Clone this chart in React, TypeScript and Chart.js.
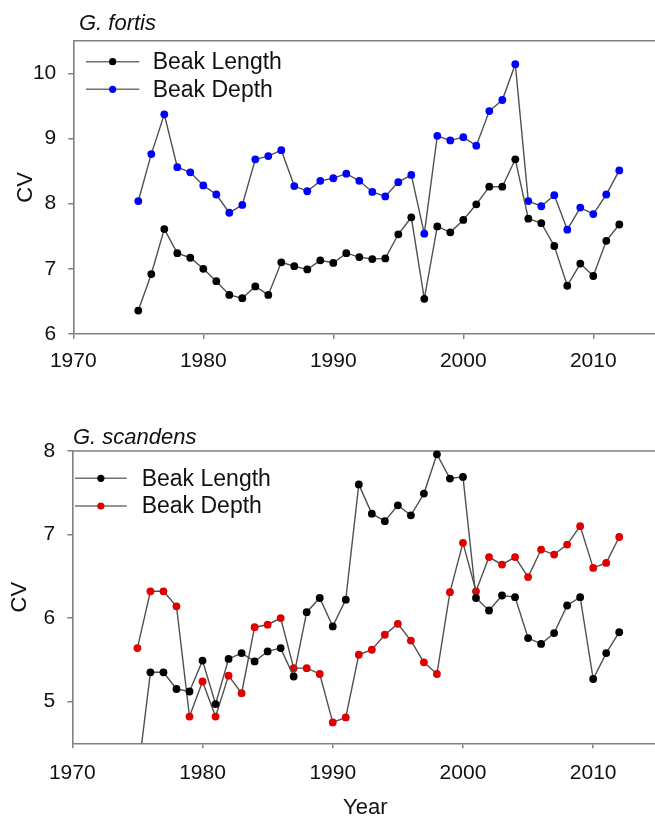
import React, { useEffect, useRef } from 'react';
import { Chart, registerables } from 'chart.js';

Chart.register(...registerables);

// ---- data ----
const years = [
  1975, 1976, 1977, 1978, 1979, 1980, 1981, 1982, 1983, 1984,
  1985, 1986, 1987, 1988, 1989, 1990, 1991, 1992, 1993, 1994,
  1995, 1996, 1997, 1998, 1999, 2000, 2001, 2002, 2003, 2004,
  2005, 2006, 2007, 2008, 2009, 2010, 2011, 2012,
];

const fortisLength = [
  6.36, 6.92, 7.61, 7.24, 7.17, 7.0, 6.81, 6.6, 6.55, 6.73,
  6.6, 7.1, 7.04, 6.99, 7.13, 7.09, 7.24, 7.18, 7.15, 7.16,
  7.53, 7.79, 6.54, 7.65, 7.56, 7.75, 7.99, 8.26, 8.26, 8.68,
  7.77, 7.7, 7.35, 6.74, 7.08, 6.89, 7.43, 7.68,
];

const fortisDepth = [
  8.04, 8.76, 9.37, 8.56, 8.48, 8.28, 8.14, 7.86, 7.98, 8.68,
  8.73, 8.82, 8.27, 8.19, 8.35, 8.39, 8.46, 8.35, 8.18, 8.11,
  8.33, 8.44, 7.54, 9.04, 8.97, 9.02, 8.89, 9.42, 9.59, 10.14,
  8.04, 7.96, 8.13, 7.6, 7.94, 7.84, 8.14, 8.51,
];

const scandensLength = [
  4.08, 5.35, 5.35, 5.15, 5.12, 5.49, 4.97, 5.51, 5.58, 5.48,
  5.6, 5.64, 5.3, 6.07, 6.24, 5.9, 6.22, 7.6, 7.25, 7.16,
  7.35, 7.23, 7.49, 7.96, 7.67, 7.69, 6.24, 6.09, 6.27, 6.25,
  5.76, 5.69, 5.82, 6.15, 6.25, 5.27, 5.58, 5.83,
];

const scandensDepth = [
  5.64, 6.32, 6.32, 6.14, 4.82, 5.24, 4.82, 5.31, 5.1, 5.89,
  5.92, 6.0, 5.4, 5.4, 5.33, 4.75, 4.81, 5.56, 5.62, 5.8,
  5.93, 5.73, 5.47, 5.33, 6.31, 6.9, 6.32, 6.73, 6.64, 6.73,
  6.49, 6.82, 6.76, 6.88, 7.1, 6.6, 6.66, 6.97,
];

const xTickValues = [1970, 1980, 1990, 2000, 2010];
const fortisYTicks = [6, 7, 8, 9, 10];
const scandensYTicks = [5, 6, 7, 8];
const seriesLabels = ['Beak Length', 'Beak Depth'];

// ---- styles ----
const FONT = "'Liberation Sans', Arial, Helvetica, sans-serif";
const AXIS = '#808080';
const LINE = '#505050';

const framePlugin = {
  id: 'frame',
  beforeDatasetsDraw(chart: any) {
    const { ctx, chartArea } = chart;
    ctx.save();
    ctx.strokeStyle = AXIS;
    ctx.lineWidth = 1.6;
    ctx.beginPath();
    ctx.moveTo(chartArea.left, chartArea.top);
    ctx.lineTo(chart.width, chartArea.top);
    ctx.stroke();
    ctx.restore();
  },
  afterDatasetsDraw(chart: any, _args: any, opts: any) {
    const { ctx } = chart;
    ctx.save();
    chart.data.datasets.forEach((ds: any, i: number) => {
      const y = opts.y0 + i * opts.dy;
      ctx.strokeStyle = '#707070';
      ctx.lineWidth = 1.5;
      ctx.beginPath();
      ctx.moveTo(opts.x0, y);
      ctx.lineTo(opts.x1, y);
      ctx.stroke();
      ctx.fillStyle = ds.pointBackgroundColor;
      ctx.beginPath();
      ctx.arc((opts.x0 + opts.x1) / 2, y, 3.6, 0, Math.PI * 2);
      ctx.fill();
      ctx.fillStyle = '#111';
      ctx.font = `23px ${FONT}`;
      ctx.textBaseline = 'middle';
      ctx.textAlign = 'left';
      ctx.fillText(ds.label, opts.tx, y + 1);
    });
    ctx.restore();
  },
};

type PanelProps = {
  width: number;
  height: number;
  top: number;
  padTop: number;
  padRight: number;
  yWidth: number;
  xHeight: number;
  yMin: number;
  yMax: number;
  yTicks: number[];
  series: number[][];
  colors: string[];
  yTitlePad: number;
  xTickPad: number;
  showXTitle: boolean;
  legend: { x0: number; x1: number; tx: number; y0: number; dy: number };
  clipTop: number;
};

function Panel(p: PanelProps) {
  const ref = useRef<HTMLCanvasElement>(null);
  useEffect(() => {
    if (!ref.current) return;
    const chart = new Chart(ref.current, {
      type: 'line',
      data: {
        datasets: p.series.map((vals, i) => ({
          label: seriesLabels[i],
          data: years.map((yr, j) => ({ x: yr, y: vals[j] })),
          borderColor: LINE,
          borderWidth: 1.4,
          pointBackgroundColor: p.colors[i],
          pointBorderColor: p.colors[i],
          pointBorderWidth: 0,
          pointRadius: 3.9,
          tension: 0,
          clip: { left: 0, right: 0, top: p.clipTop, bottom: 0 } as any,
        })),
      },
      options: {
        responsive: false,
        animation: false,
        devicePixelRatio: 1,
        layout: { padding: { top: p.padTop, right: p.padRight, left: 0, bottom: 0 } },
        plugins: {
          legend: { display: false },
          tooltip: { enabled: false },
          frame: p.legend,
        } as any,
        scales: {
          x: {
            type: 'linear',
            min: 1970,
            max: 2015,
            afterBuildTicks: (scale: any) => {
              scale.ticks = xTickValues.map((v) => ({ value: v }));
            },
            afterFit: (scale: any) => {
              scale.height = p.xHeight;
            },
            ticks: {
              color: '#111',
              font: { family: FONT, size: 21 },
              padding: p.xTickPad,
              maxRotation: 0,
              autoSkip: false,
              callback: (v: any) => String(v),
            },
            grid: { drawOnChartArea: false, drawTicks: true, tickLength: 5, color: AXIS, lineWidth: 1.5 },
            border: { display: true, color: AXIS, width: 1.6 },
            title: {
              display: p.showXTitle,
              text: 'Year',
              color: '#111',
              font: { family: FONT, size: 22, lineHeight: 1 },
              padding: 0,
            },
          },
          y: {
            type: 'linear',
            min: p.yMin,
            max: p.yMax,
            afterBuildTicks: (scale: any) => {
              scale.ticks = p.yTicks.map((v) => ({ value: v }));
            },
            afterFit: (scale: any) => {
              scale.width = p.yWidth;
            },
            ticks: {
              color: '#111',
              font: { family: FONT, size: 21 },
              padding: 12,
              callback: (v: any) => String(v),
            },
            grid: { drawOnChartArea: false, drawTicks: true, tickLength: 5, color: AXIS, lineWidth: 1.5 },
            border: { display: true, color: AXIS, width: 1.6 },
            title: {
              display: true,
              text: 'CV',
              color: '#111',
              font: { family: FONT, size: 22, lineHeight: 1 },
              padding: { top: p.yTitlePad, bottom: 0 },
            },
          },
        },
      },
      plugins: [framePlugin],
    });
    return () => chart.destroy();
  }, []);
  return (
    <canvas
      ref={ref}
      width={p.width}
      height={p.height}
      style={{ position: 'absolute', left: 0, top: p.top, width: p.width, height: p.height }}
    />
  );
}

const titleStyle: React.CSSProperties = {
  position: 'absolute',
  fontFamily: FONT,
  fontStyle: 'italic',
  fontSize: 22,
  lineHeight: '22px',
  color: '#111',
  whiteSpace: 'nowrap',
};

export default function App() {
  return (
    <div
      style={{
        position: 'absolute',
        left: 0,
        top: 0,
        width: 655,
        height: 819,
        overflow: 'hidden',
        background: '#fff',
      }}
    >
      <Panel
        width={680}
        height={380}
        top={0}
        padTop={40.7}
        padRight={21.7}
        yWidth={73.3}
        xHeight={46}
        yMin={6}
        yMax={10.5}
        yTicks={fortisYTicks}
        series={[fortisLength, fortisDepth]}
        colors={['#000000', '#0000ff']}
        yTitlePad={14.5}
        xTickPad={10}
        showXTitle={false}
        legend={{ x0: 86, x1: 139.3, tx: 152.7, y0: 61.7, dy: 27.6 }}
        clipTop={0}
      />
      <Panel
        width={680}
        height={439}
        top={380}
        padTop={71}
        padRight={21.7}
        yWidth={72.3}
        xHeight={75.7}
        yMin={4.5}
        yMax={8}
        yTicks={scandensYTicks}
        series={[scandensLength, scandensDepth]}
        colors={['#000000', '#e00000']}
        yTitlePad={9}
        xTickPad={12}
        showXTitle={true}
        legend={{ x0: 75, x1: 126.7, tx: 141.7, y0: 98.3, dy: 27.7 }}
        clipTop={10}
      />
      <div style={{ ...titleStyle, left: 79, top: 12.4 }}>G. fortis</div>
      <div style={{ ...titleStyle, left: 73, top: 426.4 }}>G. scandens</div>
    </div>
  );
}
